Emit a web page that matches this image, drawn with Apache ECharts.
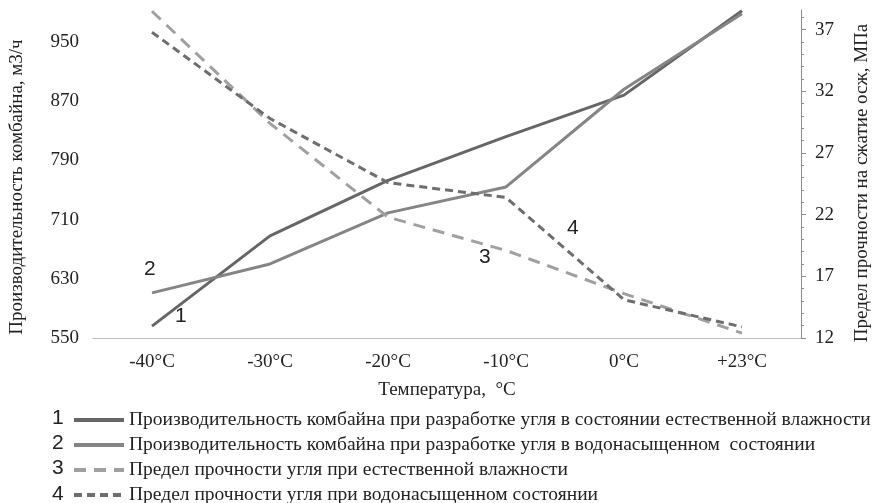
<!DOCTYPE html>
<html>
<head>
<meta charset="utf-8">
<script src="https://cdn.jsdelivr.net/npm/echarts@6/dist/echarts.min.js"></script>
<style>
  html, body { margin: 0; padding: 0; background: #fff; }
  #chart { width: 880px; height: 503px; }
</style>
</head>
<body>
<div id="chart"></div>
<script>
// температуры
var categories = ['-40°C', '-30°C', '-20°C', '-10°C', '0°C', '+23°C'];
// производительность комбайна, м3/ч
var prodNatural = [566, 688, 763, 822, 878, 992];
var prodWet = [611, 650, 719, 754, 886, 988];
// предел прочности, МПа
var strNatural = [38.5, 29.4, 21.8, 19.1, 15.6, 12.4];
var strWet = [36.8, 29.8, 24.6, 23.4, 15.1, 12.9];

var names = [
  'Производительность комбайна при разработке угля в состоянии естественной влажности',
  'Производительность комбайна при разработке угля в водонасыщенном  состоянии',
  'Предел прочности угля при естественной влажности',
  'Предел прочности угля при водонасыщенном состоянии'
];
var rightTicks = [12, 17, 22, 27, 32, 37];

var serif = 'Liberation Serif';
var sans = 'Liberation Sans';

function numText(x, y, t) {
  return {
    type: 'text', left: x, top: y,
    style: { text: t, font: '21px ' + sans, fill: '#222' }
  };
}

var myChart = echarts.init(document.getElementById('chart'));
var option = {
  animation: false,
  grid: { left: 83, right: 65, top: 10, bottom: 165 },
  xAxis: {
    type: 'category',
    data: categories,
    name: 'Температура,  °C',
    nameLocation: 'middle',
    nameGap: 43,
    nameTextStyle: { fontFamily: serif, fontSize: 19, color: '#222' },
    axisLine: { lineStyle: { color: '#bdbdbd', width: 1 } },
    axisTick: { show: false },
    axisLabel: { fontFamily: serif, fontSize: 19, color: '#222', margin: 15 }
  },
  yAxis: [
    {
      type: 'value',
      min: 550, max: 993, interval: 80,
      name: 'Производительность комбайна, м3/ч',
      nameLocation: 'middle',
      nameRotate: 90,
      nameGap: 66,
      nameTextStyle: { fontFamily: serif, fontSize: 19, color: '#222', padding: [0, 26, 0, 0] },
      axisLine: { show: false },
      axisTick: { show: false },
      splitLine: { show: false },
      axisLabel: { fontFamily: serif, fontSize: 19, color: '#222', margin: 14, showMaxLabel: false }
    },
    {
      type: 'value',
      min: 12, max: 38.6, interval: 5,
      position: 'right',
      name: 'Предел прочности на сжатие осж, МПа',
      nameLocation: 'middle',
      nameRotate: 90,
      nameGap: 52,
      nameTextStyle: { fontFamily: serif, fontSize: 19, color: '#222', padding: [0, 18, 0, 0] },
      axisLine: { show: true, lineStyle: { color: '#8c8c8c', width: 1 } },
      axisTick: { show: true, length: 5, customValues: rightTicks, lineStyle: { color: '#8c8c8c' } },
      minorTick: { show: true, splitNumber: 5, length: 3, lineStyle: { color: '#8c8c8c' } },
      splitLine: { show: false },
      axisLabel: { fontFamily: serif, fontSize: 19, color: '#222', margin: 14, customValues: rightTicks }
    }
  ],
  legend: {
    orient: 'vertical',
    left: 72, top: 410,
    width: 800, height: 110,
    padding: 0,
    itemWidth: 50, itemHeight: 14, itemGap: 5,
    itemStyle: { opacity: 0 },
    lineStyle: { width: 4 },
    textStyle: { fontFamily: serif, fontSize: 19.5, color: '#222', lineHeight: 20 },
    data: names
  },
  series: [
    { name: names[0], type: 'line', yAxisIndex: 0, data: prodNatural, symbol: 'none',
      lineStyle: { color: '#666666', width: 3 }, itemStyle: { color: '#666666' } },
    { name: names[1], type: 'line', yAxisIndex: 0, data: prodWet, symbol: 'none',
      lineStyle: { color: '#858585', width: 3 }, itemStyle: { color: '#858585' } },
    { name: names[2], type: 'line', yAxisIndex: 1, data: strNatural, symbol: 'none',
      lineStyle: { color: '#a0a0a0', width: 3, type: [12, 8] }, itemStyle: { color: '#a0a0a0' } },
    { name: names[3], type: 'line', yAxisIndex: 1, data: strWet, symbol: 'none',
      lineStyle: { color: '#6e6e6e', width: 3, type: [8, 5] }, itemStyle: { color: '#6e6e6e' } }
  ],
  graphic: [
    numText(144, 259, '2'),
    numText(175, 306, '1'),
    numText(479, 247, '3'),
    numText(567, 218, '4'),
    numText(52, 408, '1'),
    numText(52, 433, '2'),
    numText(52, 458, '3'),
    numText(52, 484, '4')
  ]
};
myChart.setOption(option);
</script>
</body>
</html>
